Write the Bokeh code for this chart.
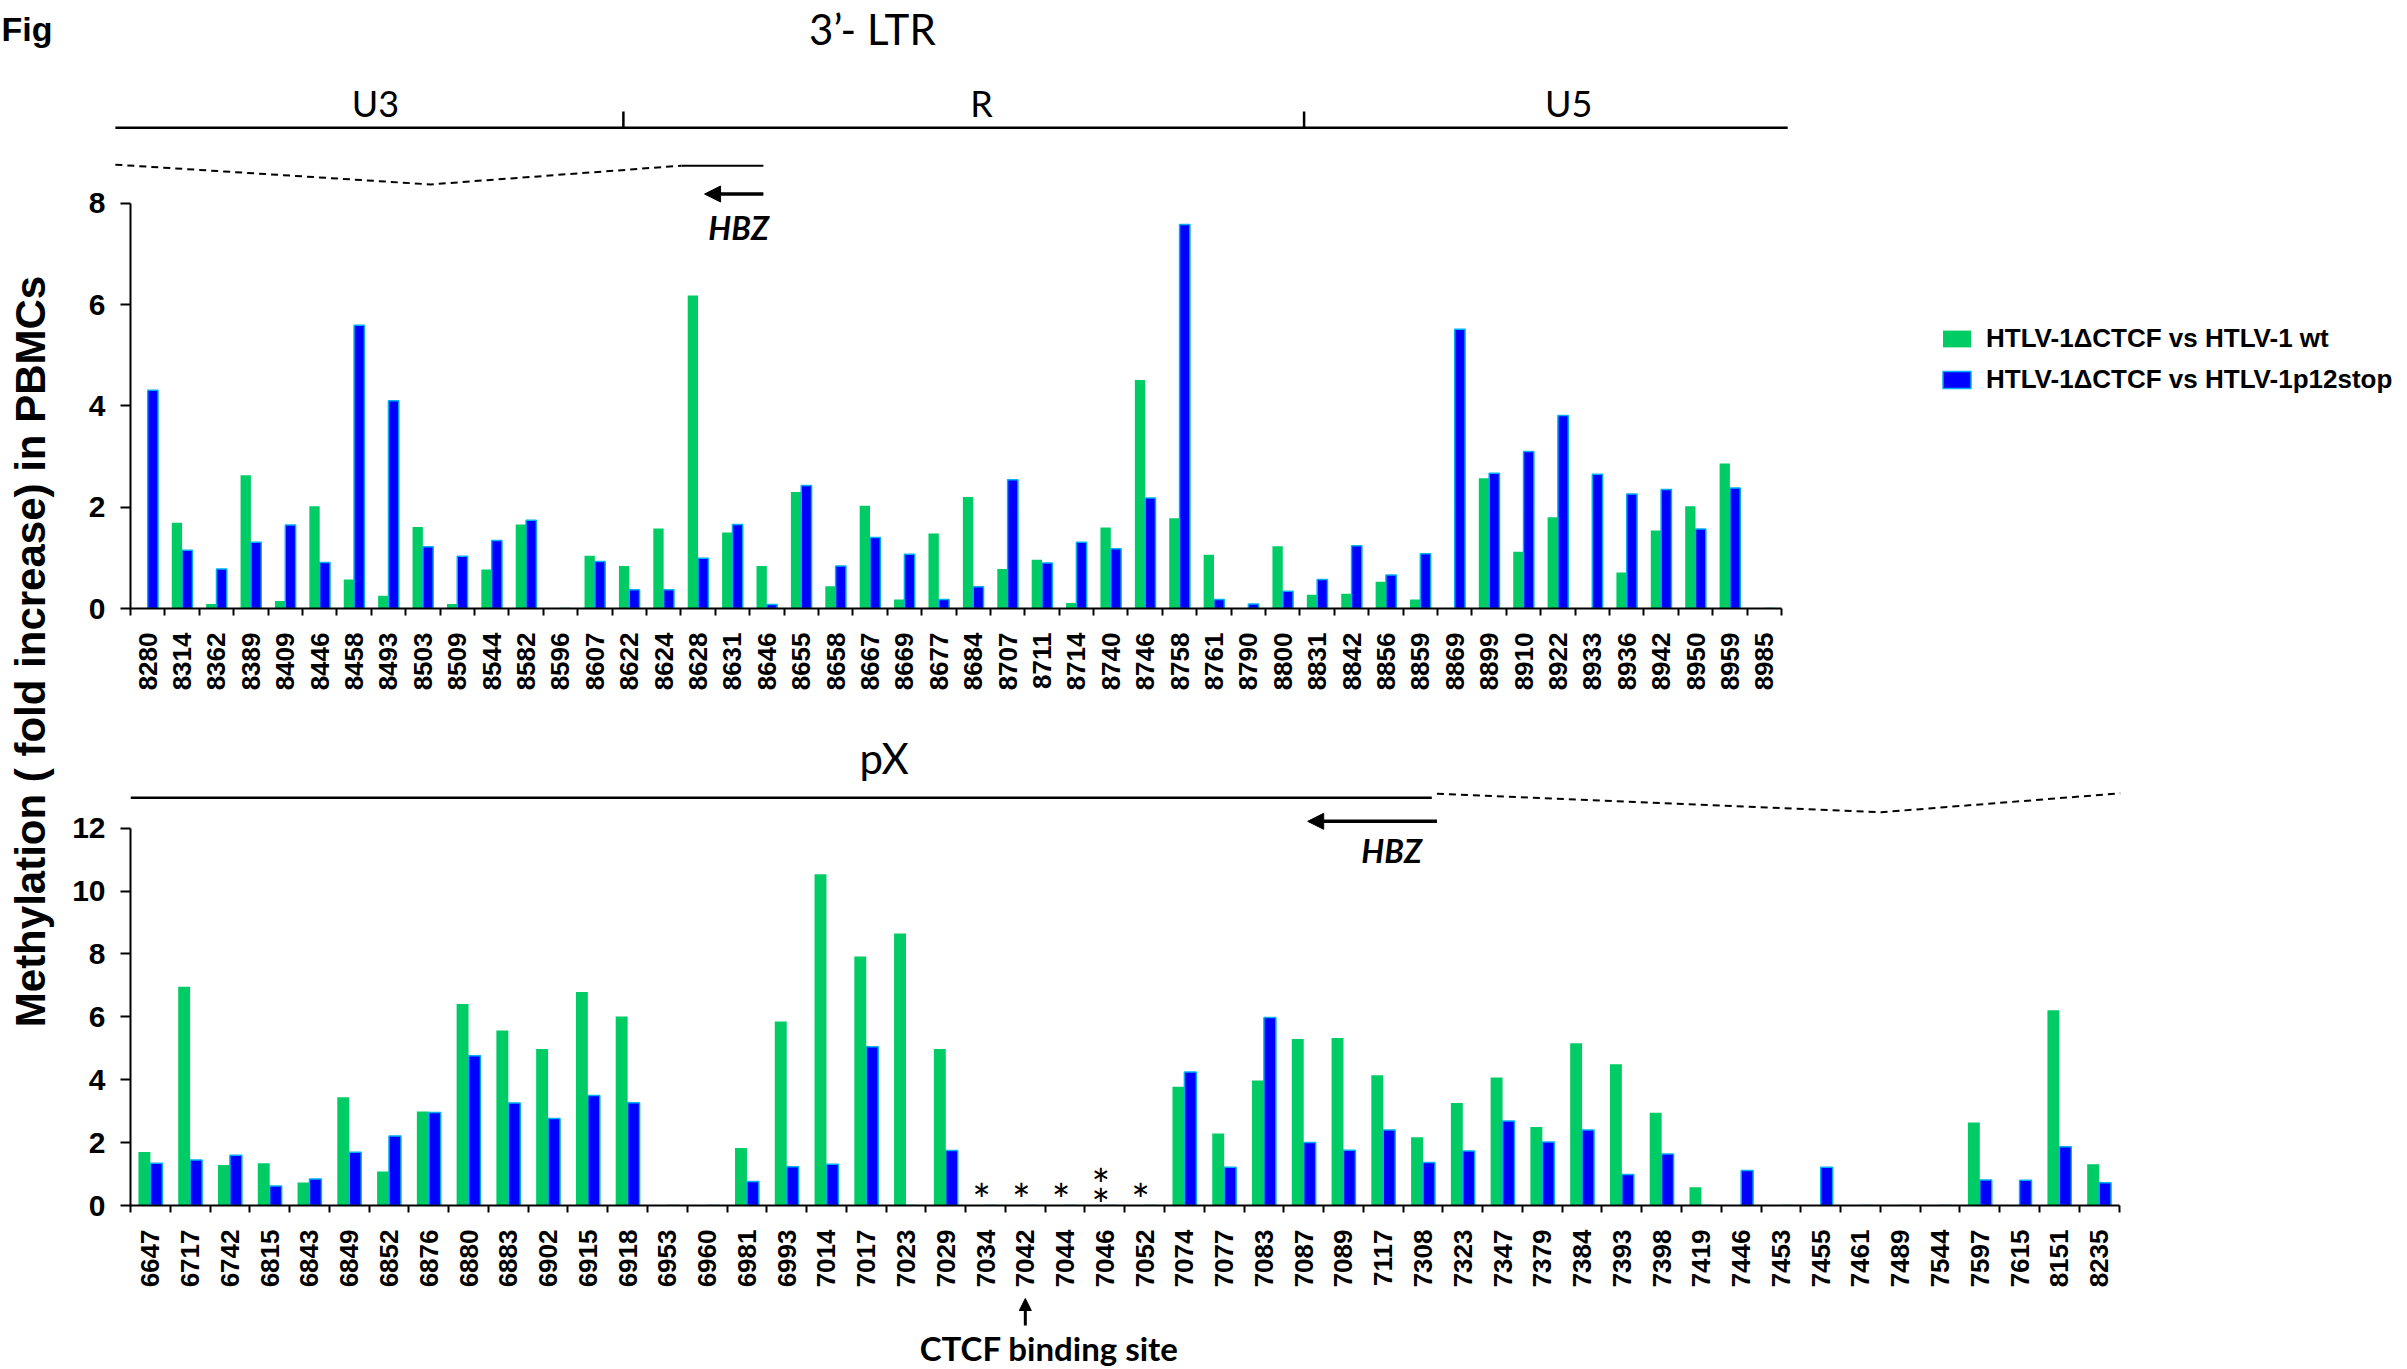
import numpy as np
from bokeh.plotting import figure
from bokeh.models import (Range1d, FixedTicker, Label, Arrow, NormalHead,
                          Legend, LegendItem, ColumnDataSource)
from bokeh.layouts import row, column
from bokeh.embed import file_html
from bokeh.resources import INLINE
from bokeh.core.properties import value

# ---------------- data ----------------
ltr_sites = ["8280", "8314", "8362", "8389", "8409", "8446", "8458", "8493", "8503", "8509",
             "8544", "8582", "8596", "8607", "8622", "8624", "8628", "8631", "8646", "8655",
             "8658", "8667", "8669", "8677", "8684", "8707", "8711", "8714", "8740", "8746",
             "8758", "8761", "8790", "8800", "8831", "8842", "8856", "8859", "8869", "8899",
             "8910", "8922", "8933", "8936", "8942", "8950", "8959", "8985"]
ltr_vs_wt = [0, 1.69, 0.09, 2.63, 0.15, 2.02, 0.57, 0.25, 1.61, 0.09,
             0.77, 1.66, 0, 1.04, 0.84, 1.58, 6.18, 1.50, 0.84, 2.30,
             0.44, 2.03, 0.18, 1.48, 2.20, 0.78, 0.96, 0.11, 1.60, 4.51,
             1.78, 1.06, 0, 1.23, 0.27, 0.29, 0.53, 0.18, 0, 2.57,
             1.12, 1.80, 0, 0.71, 1.54, 2.02, 2.86, 0]
ltr_vs_p12 = [4.31, 1.15, 0.78, 1.31, 1.65, 0.91, 5.59, 4.10, 1.22, 1.03,
              1.34, 1.74, 0, 0.93, 0.37, 0.37, 0.99, 1.66, 0.08, 2.43,
              0.84, 1.40, 1.07, 0.18, 0.43, 2.54, 0.90, 1.31, 1.18, 2.18,
              7.58, 0.18, 0.09, 0.34, 0.57, 1.24, 0.66, 1.08, 5.51, 2.67,
              3.10, 3.81, 2.65, 2.26, 2.35, 1.57, 2.38, 0]

px_sites = ["6647", "6717", "6742", "6815", "6843", "6849", "6852", "6876", "6880", "6883",
            "6902", "6915", "6918", "6953", "6960", "6981", "6993", "7014", "7017", "7023",
            "7029", "7034", "7042", "7044", "7046", "7052", "7074", "7077", "7083", "7087",
            "7089", "7117", "7308", "7323", "7347", "7379", "7384", "7393", "7398", "7419",
            "7446", "7453", "7455", "7461", "7489", "7544", "7597", "7615", "8151", "8235"]
px_vs_wt = [1.70, 6.96, 1.29, 1.34, 0.73, 3.44, 1.08, 2.99, 6.41, 5.57,
            4.98, 6.79, 6.01, 0, 0, 1.83, 5.85, 10.54, 7.92, 8.65,
            4.98, 0, 0, 0, 0, 0, 3.78, 2.29, 3.98, 5.30,
            5.33, 4.14, 2.17, 3.26, 4.07, 2.50, 5.16, 4.49, 2.95, 0.58,
            0, 0, 0, 0, 0, 0, 2.64, 0, 6.21, 1.31]
px_vs_p12 = [1.34, 1.45, 1.60, 0.62, 0.84, 1.69, 2.21, 2.96, 4.76, 3.26,
             2.77, 3.50, 3.27, 0, 0, 0.76, 1.23, 1.31, 5.05, 0,
             1.75, 0, 0, 0, 0, 0, 4.25, 1.22, 5.98, 2.00,
             1.76, 2.40, 1.37, 1.73, 2.69, 2.02, 2.40, 0.99, 1.64, 0,
             1.11, 0, 1.22, 0, 0, 0, 0.81, 0.80, 1.87, 0.72]

series_labels = ["HTLV-1\u0394CTCF vs HTLV-1 wt", "HTLV-1\u0394CTCF vs HTLV-1p12stop"]
star_sites = ["7034", "7042", "7044", "7046", "7046", "7052"]
ctcf_site = "7042"
ltr_ticks = [0, 2, 4, 6, 8]
px_ticks = [0, 2, 4, 6, 8, 10, 12]

# ---------------- style ----------------
GREEN = "#00CC66"
BLUE = "#0000FF"
CYAN = "#00B0F0"
SANS = "Liberation Sans"
CAL = "Lato"

STRIP_W = 64
FIG_W = 2407 - STRIP_W
LEFT = 130 - STRIP_W
FRAME_W = FIG_W - LEFT


def base_fig(height, xr, yr, bottom):
    p = figure(width=FIG_W, height=height, x_range=xr, y_range=yr,
               output_backend="svg", toolbar_location=None, title=None,
               min_border_left=LEFT, min_border_right=0, min_border_top=0,
               min_border_bottom=bottom)
    p.outline_line_color = None
    p.xgrid.visible = False
    p.ygrid.visible = False
    p.background_fill_color = "white"
    p.border_fill_color = "white"
    return p


def style_axes(p, labels, yticks):
    n = len(labels)
    xa = p.xaxis[0]
    xa.ticker = FixedTicker(ticks=list(range(n)),
                            minor_ticks=[i - 0.5 for i in range(n + 1)])
    xa.major_label_overrides = {i: s for i, s in enumerate(labels)}
    xa.bounds = (-0.5, n - 0.5)
    xa.major_label_orientation = np.pi / 2
    xa.major_tick_line_color = None
    xa.major_tick_out = 0
    xa.major_tick_in = 0
    xa.minor_tick_line_color = "black"
    xa.minor_tick_line_width = 2
    xa.minor_tick_out = 7
    xa.minor_tick_in = 0
    xa.axis_line_width = 2
    xa.major_label_standoff = 17
    xa.major_label_text_font = SANS
    xa.major_label_text_font_style = "bold"
    xa.major_label_text_font_size = "26px"
    xa.major_label_text_color = "black"

    ya = p.yaxis[0]
    ya.ticker = FixedTicker(ticks=yticks)
    ya.bounds = (yticks[0], yticks[-1])
    ya.minor_tick_line_color = None
    ya.major_tick_out = 10
    ya.major_tick_in = 0
    ya.major_tick_line_width = 2
    ya.axis_line_width = 2
    ya.major_label_standoff = 15
    ya.major_label_text_font = SANS
    ya.major_label_text_font_style = "bold"
    ya.major_label_text_font_size = "30px"
    ya.major_label_text_color = "black"


def bars(p, values_a, values_b):
    idx = np.arange(len(values_a))
    src = ColumnDataSource(dict(xa=idx - 0.15, xb=idx + 0.15, a=values_a, b=values_b))
    ga = p.vbar(x="xa", top="a", width=0.3, source=src, fill_color=GREEN, line_color=None)
    gb = p.vbar(x="xb", top="b", width=0.3, source=src, fill_color=BLUE,
                line_color=CYAN, line_width=1.5)
    return ga, gb


def txt(p, x, y, s, size, font=CAL, style="normal", align="center"):
    p.add_layout(Label(x=x, y=y, text=s, text_font=font, text_font_size=size,
                       text_font_style=style, text_align=align,
                       text_baseline="middle", text_color="black"))


# ---------------- top panel (3'-LTR) ----------------
ltr_w = 1651 / len(ltr_sites)
top = base_fig(700, Range1d(-0.5, -0.5 + FRAME_W / ltr_w), Range1d(0, 12.0), 92)
style_axes(top, ltr_sites, ltr_ticks)
g1, b1 = bars(top, ltr_vs_wt, ltr_vs_p12)

# genome structure above the bars
top.line(x=[-0.94, 47.68], y=[9.49, 9.49], line_color="black", line_width=2.5,
         level="overlay")
top.segment(x0=[13.83, 33.62], y0=[9.49, 9.49], x1=[13.83, 33.62], y1=[9.81, 9.81],
            line_color="black", line_width=2.5)
top.line(x=[-0.94, 8.22, 15.52], y=[8.76, 8.37, 8.74], line_color="black",
         line_width=2, line_dash="7 5", level="overlay")
top.line(x=[15.52, 17.9], y=[8.74, 8.74], line_color="black", line_width=2)
top.add_layout(Arrow(end=NormalHead(size=16, fill_color="black", line_color="black"),
                     x_start=17.9, y_start=8.18, x_end=16.19, y_end=8.18,
                     line_color="black", line_width=3.5))
txt(top, 21.07, 11.44, "3\u2019- LTR", "42px")
txt(top, 6.62, 9.98, "U3", "36px")
txt(top, 24.24, 9.98, "R", "36px")
txt(top, 41.31, 9.98, "U5", "36px")
txt(top, 17.18, 7.52, "HBZ", "32px", style="bold italic")

legend = Legend(items=[LegendItem(label=series_labels[0], renderers=[g1]),
                       LegendItem(label=series_labels[1], renderers=[b1])],
                location=(1809, 213), padding=0, margin=0, spacing=10,
                glyph_width=35, glyph_height=21, label_height=30, label_standoff=12,
                label_text_font=SANS, label_text_font_style="bold",
                label_text_font_size="26px", label_text_color="black",
                border_line_color=None, background_fill_alpha=0)
top.add_layout(legend)

# ---------------- bottom panel (pX) ----------------
px_w = 39.77
bot = base_fig(590, Range1d(-0.5, -0.5 + FRAME_W / px_w), Range1d(0, 506 / 31.5), 84)
style_axes(bot, px_sites, px_ticks)
bars(bot, px_vs_wt, px_vs_p12)

bot.line(x=[-0.5, 32.22], y=[12.97, 12.97], line_color="black", line_width=2.5)
bot.line(x=[32.35, 43.52, 49.53], y=[13.1, 12.51, 13.11], line_color="black",
         line_width=2, line_dash="7 5")
bot.add_layout(Arrow(end=NormalHead(size=16, fill_color="black", line_color="black"),
                     x_start=32.35, y_start=12.22, x_end=29.1, y_end=12.22,
                     line_color="black", line_width=3.5))
txt(bot, 18.45, 14.24, "pX", "42px")
txt(bot, 31.21, 11.3, "HBZ", "32px", style="bold italic")

# asterisks over the undetermined sites (a site listed twice gets a stacked pair)
star_x, star_y = [], []
for i, s in enumerate(star_sites):
    star_x.append(px_sites.index(s) - 0.1)
    if star_sites.count(s) == 1:
        star_y.append(0.20)
    else:
        star_y.append(0.68 if i == star_sites.index(s) else 0.05)
bot.text(x=star_x, y=star_y, text=["*"] * len(star_sites), text_font=value(CAL),
         text_font_size="44px", text_align="center", text_baseline="middle",
         text_color="black")

# ---------------- strip under the bottom panel ----------------
strip = figure(width=FIG_W, height=79, x_range=bot.x_range, y_range=Range1d(79, 0),
               output_backend="svg", toolbar_location=None, title=None,
               x_axis_type=None, y_axis_type=None,
               min_border_left=LEFT, min_border_right=0, min_border_top=0,
               min_border_bottom=0)
strip.outline_line_color = None
ci = px_sites.index(ctcf_site)
strip.add_layout(Arrow(end=NormalHead(size=12, fill_color="black", line_color="black"),
                       x_start=ci, y_start=35, x_end=ci, y_end=8,
                       line_color="black", line_width=3))
txt(strip, ci + 0.6, 57, "CTCF binding site", "33px", style="bold")

# ---------------- left strip: y label ----------------
left = figure(width=STRIP_W, height=1369, x_range=Range1d(0, STRIP_W),
              y_range=Range1d(1369, 0),
              output_backend="svg", toolbar_location=None, title=None,
              x_axis_type=None, y_axis_type=None, min_border=0,
              min_border_left=0, min_border_right=0, min_border_top=0,
              min_border_bottom=0)
left.outline_line_color = None
left.add_layout(Label(x=1, y=28, text="Fig", text_font=SANS, text_font_size="34px",
                      text_font_style="bold", text_align="left", text_color="black",
                      text_baseline="alphabetic"))
left.add_layout(Label(x=30, y=651, text="Methylation ( fold increase) in PBMCs",
                      angle=np.pi / 2, text_font=SANS, text_font_size="42px",
                      text_font_style="bold", text_align="center", text_color="black",
                      text_baseline="middle"))

layout = row(left, column(top, bot, strip))
open("out.html", "w").write(file_html(layout, INLINE))
